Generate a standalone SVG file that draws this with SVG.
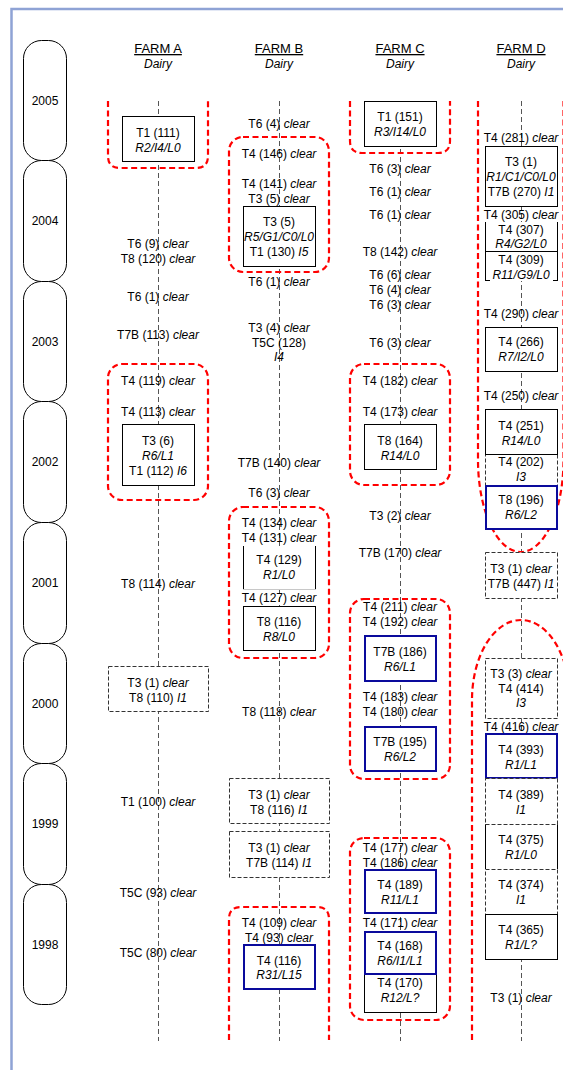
<svg xmlns="http://www.w3.org/2000/svg" width="563" height="1070" viewBox="0 0 563 1070">
<style>
.t{font-family:"Liberation Sans",Arial,sans-serif;font-size:12px;fill:#000;text-anchor:middle}
.h{font-size:13px;text-decoration:underline}
.i{font-style:italic}
.box{fill:#fff;stroke:#000;stroke-width:1}
.bbox{fill:#fff;stroke:#0a0a9c;stroke-width:2}
.dbox{fill:#fff;stroke:#333;stroke-width:1;stroke-dasharray:4 2}
.red{fill:none;stroke:#f00;stroke-width:2.2;stroke-dasharray:6 3.5}
.vl{fill:none;stroke:#555;stroke-width:1;stroke-dasharray:5 3}
.pill{fill:#fff;stroke:#000;stroke-width:1}
.ln{fill:none;stroke:#000;stroke-width:1}
.wf{fill:#fff;stroke:none}
</style>
<rect width="563" height="1070" fill="#fff"/>
<g id="frame"><path d="M11.5,1070 V9 H563" fill="none" stroke="#8fa3d5" stroke-width="2.5"/></g>

<g id="years">
<g id="y2005"><rect class="pill" x="23.5" y="40.5" width="43" height="120" rx="18"/><text class="t" x="45" y="105">2005</text></g>
<g id="y2004"><rect class="pill" x="23.5" y="160.5" width="43" height="121" rx="18"/><text class="t" x="45" y="225">2004</text></g>
<g id="y2003"><rect class="pill" x="23.5" y="281.5" width="43" height="120" rx="18"/><text class="t" x="45" y="346">2003</text></g>
<g id="y2002"><rect class="pill" x="23.5" y="401.5" width="43" height="121" rx="18"/><text class="t" x="45" y="466">2002</text></g>
<g id="y2001"><rect class="pill" x="23.5" y="522.5" width="43" height="121" rx="18"/><text class="t" x="45" y="587">2001</text></g>
<g id="y2000"><rect class="pill" x="23.5" y="643.5" width="43" height="120" rx="18"/><text class="t" x="45" y="708">2000</text></g>
<g id="y1999"><rect class="pill" x="23.5" y="763.5" width="43" height="121" rx="18"/><text class="t" x="45" y="828">1999</text></g>
<g id="y1998"><rect class="pill" x="23.5" y="884.5" width="43" height="120" rx="18"/><text class="t" x="45" y="949">1998</text></g>
</g>

<g id="headers">
<g id="hA"><text class="t h" x="158" y="53">FARM A</text><text class="t i" x="158" y="68">Dairy</text></g>
<g id="hB"><text class="t h" x="279" y="53">FARM B</text><text class="t i" x="279" y="68">Dairy</text></g>
<g id="hC"><text class="t h" x="400" y="53">FARM C</text><text class="t i" x="400" y="68">Dairy</text></g>
<g id="hD"><text class="t h" x="521" y="53">FARM D</text><text class="t i" x="521" y="68">Dairy</text></g>
</g>

<g id="connectors">
<path class="vl" d="M158.5,101 V1041"/>
<path class="vl" d="M279.5,101 V1041"/>
<path class="vl" d="M400.5,101 V1041"/>
<path class="vl" d="M521.5,101 V1041"/>
</g>

<g id="groups">
<path class="red" d="M108,101 V156 Q108,168 120,168 H196 Q208,168 208,156 V101"/>
<rect class="red" x="108" y="364" width="100" height="136" rx="14"/>
<rect class="red" x="229" y="137" width="100" height="135" rx="14"/>
<rect class="red" x="229" y="507" width="100" height="151" rx="14"/>
<path class="red" d="M229,1040 V919 Q229,907 241,907 H317 Q329,907 329,919 V1040"/>
<path class="red" d="M350,101 V141 Q350,153 362,153 H438 Q450,153 450,141 V101"/>
<rect class="red" x="350" y="364" width="100" height="121" rx="14"/>
<rect class="red" x="350" y="599" width="100" height="180" rx="14"/>
<rect class="red" x="350" y="838" width="100" height="182" rx="14"/>
<path class="red" d="M478,101 V460 A42.75,92 0 0 0 563.5,460 V101"/>
<path class="red" d="M472,1040 V700 A49,80 0 0 1 570,700 V1040"/>
</g>

<g id="farmA">
<g id="a1"><rect class="box" x="122.5" y="116.5" width="72" height="45"/><text class="t" x="158" y="137">T1 (111)</text><text class="t i" x="158" y="152">R2/I4/L0</text></g>
<g id="a2"><text class="t" x="158" y="248">T6 (9) <tspan class="i">clear</tspan></text><text class="t" x="158" y="263">T8 (120) <tspan class="i">clear</tspan></text></g>
<g id="a3"><text class="t" x="158" y="301">T6 (1) <tspan class="i">clear</tspan></text></g>
<g id="a4"><text class="t" x="158" y="339">T7B (113) <tspan class="i">clear</tspan></text></g>
<g id="a5"><text class="t" x="158" y="385">T4 (119) <tspan class="i">clear</tspan></text></g>
<g id="a6"><text class="t" x="158" y="416">T4 (113) <tspan class="i">clear</tspan></text></g>
<g id="a7"><rect class="box" x="122.5" y="424.5" width="72" height="61"/><text class="t" x="158" y="445">T3 (6)</text><text class="t i" x="158" y="460">R6/L1</text><text class="t" x="158" y="475">T1 (112) <tspan class="i">I6</tspan></text></g>
<g id="a8"><text class="t" x="158" y="588">T8 (114) <tspan class="i">clear</tspan></text></g>
<g id="a9"><rect class="dbox" x="108.5" y="666.5" width="100" height="45"/><text class="t" x="158" y="687">T3 (1) <tspan class="i">clear</tspan></text><text class="t" x="158" y="702">T8 (110) <tspan class="i">I1</tspan></text></g>
<g id="a10"><text class="t" x="158" y="806">T1 (100) <tspan class="i">clear</tspan></text></g>
<g id="a11"><text class="t" x="158" y="897">T5C (93) <tspan class="i">clear</tspan></text></g>
<g id="a12"><text class="t" x="158" y="957">T5C (80) <tspan class="i">clear</tspan></text></g>
</g>

<g id="farmB">
<g id="b1"><text class="t" x="279" y="128">T6 (4) <tspan class="i">clear</tspan></text></g>
<g id="b2"><text class="t" x="279" y="158">T4 (146) <tspan class="i">clear</tspan></text></g>
<g id="b3"><text class="t" x="279" y="188">T4 (141) <tspan class="i">clear</tspan></text><text class="t" x="279" y="203">T3 (5) <tspan class="i">clear</tspan></text></g>
<g id="b4"><rect class="box" x="243.5" y="206.5" width="72" height="60"/><text class="t" x="279" y="226">T3 (5)</text><text class="t i" x="279" y="241">R5/G1/C0/L0</text><text class="t" x="279" y="256">T1 (130) <tspan class="i">I5</tspan></text></g>
<g id="b5"><text class="t" x="279" y="286">T6 (1) <tspan class="i">clear</tspan></text></g>
<g id="b6"><text class="t" x="279" y="332">T3 (4) <tspan class="i">clear</tspan></text><text class="t" x="279" y="347">T5C (128)</text><text class="t i" x="279" y="361">I4</text></g>
<g id="b7"><text class="t" x="279" y="467">T7B (140) <tspan class="i">clear</tspan></text></g>
<g id="b8"><text class="t" x="279" y="497">T6 (3) <tspan class="i">clear</tspan></text></g>
<g id="b9"><text class="t" x="279" y="527">T4 (134) <tspan class="i">clear</tspan></text><text class="t" x="279" y="542">T4 (131) <tspan class="i">clear</tspan></text></g>
<g id="b10"><rect class="wf" x="243" y="546" width="72" height="43"/><path class="ln" d="M243.5,546 V589 M315.5,546 V589"/><path d="M243,589.5 H316" stroke="#c8c8c8" stroke-width="1"/><text class="t" x="279" y="564">T4 (129)</text><text class="t i" x="279" y="579">R1/L0</text></g>
<g id="b11"><text class="t" x="279" y="602">T4 (127) <tspan class="i">clear</tspan></text></g>
<g id="b12"><rect class="box" x="243.5" y="606.5" width="72" height="44"/><text class="t" x="279" y="626">T8 (116)</text><text class="t i" x="279" y="641">R8/L0</text></g>
<g id="b13"><text class="t" x="279" y="716">T8 (118) <tspan class="i">clear</tspan></text></g>
<g id="b14"><rect class="dbox" x="229.5" y="778.5" width="100" height="45"/><text class="t" x="279" y="799">T3 (1) <tspan class="i">clear</tspan></text><text class="t" x="279" y="814">T8 (116) <tspan class="i">I1</tspan></text></g>
<g id="b15"><rect class="dbox" x="229.5" y="831.5" width="100" height="46"/><text class="t" x="279" y="852">T3 (1) <tspan class="i">clear</tspan></text><text class="t" x="279" y="867">T7B (114) <tspan class="i">I1</tspan></text></g>
<g id="b16"><text class="t" x="279" y="927">T4 (109) <tspan class="i">clear</tspan></text><text class="t" x="279" y="942">T4 (93) <tspan class="i">clear</tspan></text></g>
<g id="b17"><rect class="bbox" x="244" y="945" width="71" height="44"/><text class="t" x="279" y="965">T4 (116)</text><text class="t i" x="279" y="979">R31/L15</text></g>
</g>

<g id="farmC">
<g id="c1"><rect class="box" x="364.5" y="101.5" width="72" height="45"/><text class="t" x="400" y="121">T1 (151)</text><text class="t i" x="400" y="136">R3/I14/L0</text></g>
<g id="c2"><text class="t" x="400" y="173">T6 (3) <tspan class="i">clear</tspan></text></g>
<g id="c3"><text class="t" x="400" y="196">T6 (1) <tspan class="i">clear</tspan></text></g>
<g id="c4"><text class="t" x="400" y="219">T6 (1) <tspan class="i">clear</tspan></text></g>
<g id="c5"><text class="t" x="400" y="256">T8 (142) <tspan class="i">clear</tspan></text></g>
<g id="c6"><text class="t" x="400" y="279">T6 (6) <tspan class="i">clear</tspan></text><text class="t" x="400" y="294">T6 (4) <tspan class="i">clear</tspan></text><text class="t" x="400" y="309">T6 (3) <tspan class="i">clear</tspan></text></g>
<g id="c7"><text class="t" x="400" y="347">T6 (3) <tspan class="i">clear</tspan></text></g>
<g id="c8"><text class="t" x="400" y="385">T4 (182) <tspan class="i">clear</tspan></text></g>
<g id="c9"><text class="t" x="400" y="416">T4 (173) <tspan class="i">clear</tspan></text></g>
<g id="c10"><rect class="box" x="364.5" y="424.5" width="72" height="45"/><text class="t" x="400" y="445">T8 (164)</text><text class="t i" x="400" y="460">R14/L0</text></g>
<g id="c11"><text class="t" x="400" y="520">T3 (2) <tspan class="i">clear</tspan></text></g>
<g id="c12"><text class="t" x="400" y="557">T7B (170) <tspan class="i">clear</tspan></text></g>
<g id="c13"><text class="t" x="400" y="611">T4 (211) <tspan class="i">clear</tspan></text><text class="t" x="400" y="626">T4 (192) <tspan class="i">clear</tspan></text></g>
<g id="c14"><rect class="bbox" x="365" y="636" width="71" height="45"/><text class="t" x="400" y="656">T7B (186)</text><text class="t i" x="400" y="671">R6/L1</text></g>
<g id="c15"><text class="t" x="400" y="701">T4 (183) <tspan class="i">clear</tspan></text><text class="t" x="400" y="716">T4 (180) <tspan class="i">clear</tspan></text></g>
<g id="c16"><rect class="bbox" x="365" y="727" width="71" height="44"/><text class="t" x="400" y="746">T7B (195)</text><text class="t i" x="400" y="761">R6/L2</text></g>
<g id="c17"><text class="t" x="400" y="852">T4 (177) <tspan class="i">clear</tspan></text><text class="t" x="400" y="867">T4 (186) <tspan class="i">clear</tspan></text></g>
<g id="c18"><rect class="bbox" x="365" y="870" width="71" height="43"/><text class="t" x="400" y="889">T4 (189)</text><text class="t i" x="400" y="904">R11/L1</text></g>
<g id="c19"><text class="t" x="400" y="927">T4 (171) <tspan class="i">clear</tspan></text></g>
<g id="c21"><rect class="box" x="364.5" y="973.5" width="72" height="39"/><text class="t" x="400" y="987">T4 (170)</text><text class="t i" x="400" y="1002">R12/L?</text></g>
<g id="c20"><rect class="bbox" x="365" y="932" width="71" height="42"/><text class="t" x="400" y="950">T4 (168)</text><text class="t i" x="400" y="965">R6/I1/L1</text></g>
</g>

<g id="farmD">
<g id="d1"><text class="t" x="521" y="142">T4 (281) <tspan class="i">clear</tspan></text></g>
<g id="d2"><rect class="box" x="485.5" y="146.5" width="72" height="60"/><text class="t" x="521" y="166">T3 (1)</text><text class="t i" x="521" y="181">R1/C1/C0/L0</text><text class="t" x="521" y="196">T7B (270) <tspan class="i">I1</tspan></text></g>
<g id="d3"><text class="t" x="521" y="219">T4 (305) <tspan class="i">clear</tspan></text></g>
<g id="d4"><rect class="wf" x="485" y="222" width="73" height="59"/><path class="ln" d="M485.5,222 V281 M557.5,222 V281 M485,251.5 H558 M485,280.5 H490 M553,280.5 H558"/><text class="t" x="521" y="234">T4 (307)</text><text class="t i" x="521" y="248">R4/G2/L0</text><text class="t" x="521" y="264">T4 (309)</text><text class="t i" x="521" y="279">R11/G9/L0</text></g>
<g id="d5"><text class="t" x="521" y="318">T4 (290) <tspan class="i">clear</tspan></text></g>
<g id="d6"><rect class="box" x="485.5" y="327.5" width="72" height="44"/><text class="t" x="521" y="346">T4 (266)</text><text class="t i" x="521" y="361">R7/I2/L0</text></g>
<g id="d7"><text class="t" x="521" y="400">T4 (250) <tspan class="i">clear</tspan></text></g>
<g id="d9"><rect class="dbox" x="485.5" y="454.5" width="72" height="31"/><text class="t" x="521" y="466">T4 (202)</text><text class="t i" x="521" y="481">I3</text></g>
<g id="d8"><rect class="box" x="485.5" y="409.5" width="72" height="45"/><text class="t" x="521" y="430">T4 (251)</text><text class="t i" x="521" y="445">R14/L0</text></g>
<g id="d10"><rect class="bbox" x="486" y="486" width="71" height="43"/><text class="t" x="521" y="504">T8 (196)</text><text class="t i" x="521" y="519">R6/L2</text></g>
<g id="d11"><rect class="dbox" x="485.5" y="552.5" width="72" height="46"/><text class="t" x="521" y="573">T3 (1) <tspan class="i">clear</tspan></text><text class="t" x="521" y="588">T7B (447) <tspan class="i">I1</tspan></text></g>
<g id="d12"><rect class="dbox" x="485.5" y="658.5" width="72" height="60"/><text class="t" x="521" y="678">T3 (3) <tspan class="i">clear</tspan></text><text class="t" x="521" y="693">T4 (414)</text><text class="t i" x="521" y="707">I3</text></g>
<g id="d13"><text class="t" x="521" y="731">T4 (416) <tspan class="i">clear</tspan></text></g>
<g id="d14"><rect class="bbox" x="486" y="734" width="71" height="44"/><text class="t" x="521" y="754">T4 (393)</text><text class="t i" x="521" y="769">R1/L1</text></g>
<g id="d16"><rect class="wf" x="485" y="824" width="73" height="45"/><path class="ln" d="M485.5,824 V869 M557.5,824 V869"/><text class="t" x="521" y="844">T4 (375)</text><text class="t i" x="521" y="859">R1/L0</text></g>
<g id="d15"><rect class="dbox" x="485.5" y="778.5" width="72" height="46"/><text class="t" x="521" y="799">T4 (389)</text><text class="t i" x="521" y="814">I1</text></g>
<g id="d17"><rect class="dbox" x="485.5" y="869.5" width="72" height="45"/><text class="t" x="521" y="889">T4 (374)</text><text class="t i" x="521" y="904">I1</text></g>
<g id="d18"><rect class="box" x="485.5" y="914.5" width="72" height="45"/><text class="t" x="521" y="934">T4 (365)</text><text class="t i" x="521" y="949">R1/L?</text></g>
<g id="d19"><text class="t" x="521" y="1002">T3 (1) <tspan class="i">clear</tspan></text></g>
</g>
</svg>
